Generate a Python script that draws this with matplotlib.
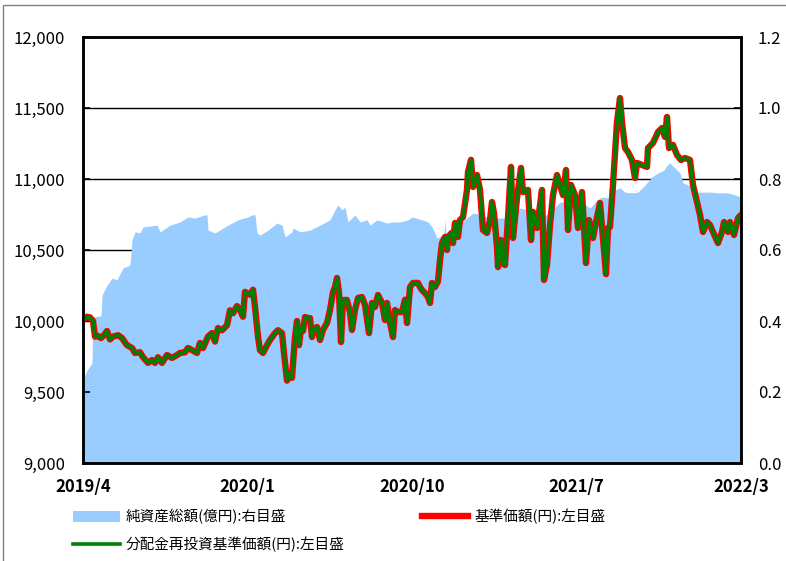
import matplotlib
matplotlib.use("Agg")
import matplotlib.pyplot as plt
from matplotlib.patches import Rectangle
from matplotlib.ticker import FuncFormatter

plt.rcParams['font.family'] = ['Liberation Sans Narrow', 'Noto Sans CJK JP', 'DejaVu Sans']

# observation index (trading days from start) and values
nav_days = [0, 4, 7, 10, 12, 15, 18, 21, 24, 27, 30, 35, 39, 44, 49, 52, 57, 60, 65, 69,
            72, 75, 79, 84, 89, 94, 97, 102, 105, 109, 114, 117, 120, 125, 129, 132, 135, 139, 144, 147,
            150, 154, 157, 160, 162, 167, 170, 172, 175, 177, 180, 184, 187, 192, 195, 199, 201, 204, 207, 209,
            212, 214, 216, 218, 220, 222, 225, 227, 229, 230, 234, 237, 240, 244, 247, 250, 252, 254, 256, 258,
            260, 264, 267, 269, 272, 275, 279, 282, 286, 289, 292, 295, 299, 302, 304, 307, 310, 312, 315, 319,
            322, 324, 327, 330, 335, 337, 339, 342, 345, 347, 349, 352, 355, 357, 359, 362, 364, 365, 369, 370,
            372, 375, 377, 380, 384, 385, 388, 390, 394, 397, 400, 404, 407, 409, 411, 414, 415, 418, 420, 422,
            425, 428, 430, 434, 438, 440, 445, 448, 450, 454, 459, 461, 464, 467, 470, 474, 477, 480, 483, 485,
            488, 492, 495, 499, 503, 506, 510, 513, 517, 520, 523, 525, 527, 530, 534, 537, 539, 542, 545, 549,
            552, 554, 559, 564, 565, 570, 575, 579, 582, 584, 586, 590, 594, 598, 602, 607, 610, 614, 617, 620,
            624, 627, 630, 635, 639, 641, 645, 647, 651, 655, 658]
nav = [10010, 10030, 10025, 10000, 9890, 9895, 9880, 9900, 9930, 9870, 9890, 9900, 9880, 9830, 9810, 9775, 9780, 9745, 9705, 9725,
       9705, 9745, 9705, 9760, 9740, 9760, 9775, 9780, 9810, 9795, 9775, 9845, 9810, 9890, 9915, 9855, 9950, 9935, 9970, 10075,
       10055, 10105, 10077, 10030, 10205, 10185, 10220, 10100, 9890, 9795, 9775, 9830, 9866, 9915, 9935, 9915, 9775, 9580, 9635, 9600,
       9887, 10000, 9830, 9950, 9930, 10028, 10020, 10021, 9887, 9937, 9958, 9866, 9937, 9986, 10077, 10204, 10240, 10303, 10200, 9852,
       10148, 10148, 10060, 9937, 10077, 10162, 10169, 10113, 9915, 10127, 10099, 10183, 10127, 10007, 10127, 9986, 9887, 10077, 10063, 10063,
       10150, 9986, 10239, 10268, 10268, 10239, 10218, 10197, 10169, 10127, 10268, 10239, 10280, 10430, 10549, 10592, 10500, 10592, 10620, 10549,
       10690, 10592, 10711, 10732, 10923, 11049, 11135, 10944, 11028, 10923, 10641, 10620, 10711, 10838, 10761, 10521, 10380, 10570, 10408, 10394,
       10725, 11085, 10585, 10866, 11078, 10908, 10923, 10570, 10768, 10655, 10923, 10289, 10394, 10676, 10887, 11028, 10958, 10887, 11063, 10641,
       10958, 10887, 10655, 10908, 10408, 10711, 10585, 10697, 10831, 10585, 10330, 10655, 10662, 10958, 11401, 11570, 11401, 11218, 11190, 11134,
       11007, 11113, 11099, 11085, 11218, 11254, 11331, 11359, 11296, 11437, 11218, 11240, 11169, 11134, 11148, 11134, 10958, 10838, 10747, 10627,
       10697, 10676, 10627, 10549, 10627, 10697, 10627, 10697, 10606, 10725, 10747]

aum_days = [0, 2, 5, 9, 10, 18, 19, 24, 29, 34, 40, 47, 49, 52, 57, 60, 74, 77, 87, 97,
            105, 112, 122, 124, 125, 132, 145, 155, 165, 169, 172, 174, 177, 185, 194, 199, 202, 209, 210, 217,
            227, 237, 247, 252, 255, 259, 262, 265, 272, 277, 284, 287, 294, 304, 310, 317, 325, 329, 339, 345,
            349, 354, 357, 361, 362, 363, 365, 375, 385, 390, 399, 405, 412, 422, 434, 437, 447, 454, 460, 467,
            477, 484, 490, 500, 507, 514, 519, 524, 527, 532, 537, 542, 549, 555, 562, 569, 575, 581, 584, 587,
            592, 597, 600, 605, 610, 615, 622, 629, 635, 645, 652, 658]
aum = [0.20, 0.25, 0.265, 0.282, 0.411, 0.415, 0.473, 0.501, 0.521, 0.516, 0.549, 0.558, 0.628, 0.651, 0.648, 0.665, 0.670, 0.651, 0.670, 0.679,
       0.693, 0.690, 0.699, 0.699, 0.656, 0.648, 0.670, 0.685, 0.693, 0.699, 0.699, 0.648, 0.642, 0.656, 0.676, 0.670, 0.637, 0.651, 0.662, 0.651,
       0.656, 0.670, 0.685, 0.713, 0.727, 0.713, 0.721, 0.679, 0.699, 0.679, 0.685, 0.670, 0.685, 0.676, 0.679, 0.679, 0.685, 0.693, 0.685, 0.679,
       0.665, 0.634, 0.637, 0.645, 0.685, 0.645, 0.656, 0.670, 0.693, 0.704, 0.699, 0.690, 0.690, 0.690, 0.707, 0.718, 0.713, 0.690, 0.693, 0.707,
       0.735, 0.735, 0.747, 0.732, 0.718, 0.741, 0.749, 0.747, 0.747, 0.769, 0.775, 0.763, 0.761, 0.763, 0.783, 0.806, 0.817, 0.825, 0.839, 0.845,
       0.831, 0.817, 0.789, 0.783, 0.775, 0.763, 0.763, 0.763, 0.761, 0.761, 0.755, 0.749]

tick_labels = ['2019/4', '2020/1', '2020/10', '2021/7', '2022/3']
n_days = 658

fig = plt.figure(figsize=(7.86, 5.61), dpi=100)
ax = fig.add_axes([83 / 786, 98 / 561, 658 / 786, 426 / 561])

# area on the primary axes (right scale) so the grid sits under it
ax.fill_between(aum_days, aum, 0, color='#99CCFF', linewidth=0, zorder=2,
                label='純資産総額(億円):右目盛')
ax.set_ylim(0, 1.2)
ax.set_yticks([0, 0.2, 0.4, 0.6, 0.8, 1.0, 1.2])
ax.yaxis.set_major_formatter(FuncFormatter(lambda v, p: f'{v:.1f}'))
ax.set_axisbelow(True)
ax.grid(axis='y', color='black', linewidth=1.0, zorder=0)

ax2 = ax.twinx()
ax.yaxis.tick_right()
ax2.yaxis.tick_left()
ax2.plot(nav_days, nav, color='#FF0000', linewidth=4.6, solid_joinstyle='round',
         label='基準価額(円):左目盛')
ax2.plot(nav_days, nav, color='#008000', linewidth=2.6, solid_joinstyle='round',
         label='分配金再投資基準価額(円):左目盛')
ax2.set_ylim(9000, 12000)
ax2.set_yticks(range(9000, 12001, 500))
ax2.yaxis.set_major_formatter(FuncFormatter(lambda v, p: f'{int(v):,}'))

ax.set_xlim(0, n_days)
ax.set_xticks([n_days * k / 4 for k in range(5)])
ax.set_xticklabels(tick_labels)

for a in (ax, ax2):
    for s in a.spines.values():
        s.set_linewidth(1.8)
        s.set_color('black')
ax.tick_params(axis='y', direction='in', length=5, width=1.2, labelsize=12, pad=12)
ax2.tick_params(axis='y', direction='in', length=5, width=1.2, labelsize=12, pad=13)
ax.tick_params(axis='x', direction='in', length=0, labelsize=12, pad=11)
for t in ax.get_xticklabels():
    t.set_fontweight('bold')

h_area, l_area = ax.get_legend_handles_labels()
h_line, l_line = ax2.get_legend_handles_labels()
handles = [h_area[0], h_line[1], h_line[0]]
labels = [l_area[0], l_line[1], l_line[0]]
fig.legend(handles, labels, ncol=2, loc='upper left', bbox_to_anchor=(0.076, 0.116),
           frameon=False, handlelength=3.2, handletextpad=0.4,
           columnspacing=5.3, labelspacing=0.85,
           prop={'family': ['Noto Sans CJK JP', 'DejaVu Sans'], 'size': 10.5})

fig.add_artist(Rectangle((3 / 786, -0.1), 1.2, 1.0 - 5 / 561 + 0.1, transform=fig.transFigure,
                         fill=False, edgecolor='#808080', linewidth=1.0))

fig.savefig('out.png', dpi=100)
